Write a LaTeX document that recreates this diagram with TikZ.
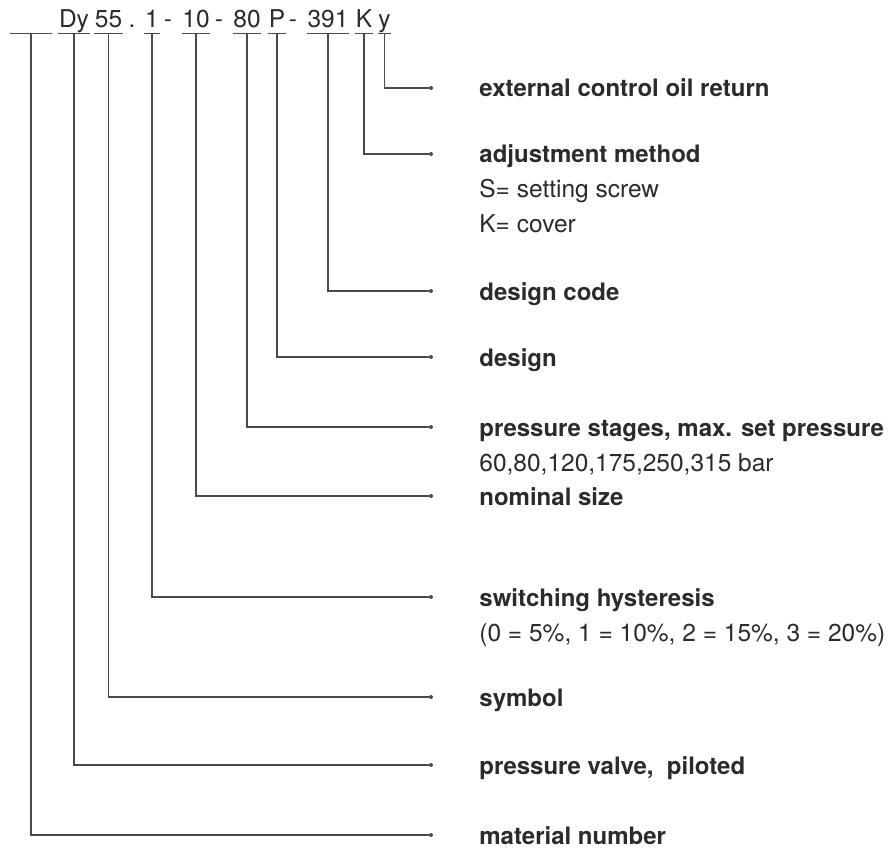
\documentclass[tikz,border=0pt]{standalone}
\usepackage{fontspec}
\setmainfont{TeX Gyre Heros}
\usetikzlibrary{positioning}
\definecolor{inkgray}{HTML}{2B2B2B}
\definecolor{linegray}{HTML}{4A4A4A}
\tikzset{
  font={\fontsize{24.5pt}{28pt}\selectfont},
  code/.style={anchor=base, inner xsep=0.5pt, inner ysep=0pt, text depth=0pt, text=inkgray},
  lead/.style={draw=linegray, line width=1.1pt},
  dot/.style={circle, fill=linegray, inner sep=0pt, minimum size=4pt},
  lbl/.style={inner sep=0pt, text height=18pt, text depth=0pt, text=inkgray, font={\fontsize{24pt}{28pt}\selectfont\bfseries}},
  sub/.style={inner sep=0pt, anchor=base west, text=inkgray}}

\begin{document}
\begin{tikzpicture}[x=1pt,y=-1pt]
\useasboundingbox (0,0) rectangle (891,850);
\node[code, minimum width=42pt] (cMat) at (31,28) {};
\node[code] (cDy) at (74,28) {Dy};
\node[code] (c55) at (108.5,28) {55};
\node[code] (sepA) at (132,28) {.};
\node[code] (c1) at (152,28) {1};
\node[code] (sepB) at (168,28) {-};
\node[code] (c10) at (196,28) {10};
\node[code] (sepC) at (219,28) {-};
\node[code] (c80) at (247,28) {80};
\node[code] (cP) at (277,28) {P};
\node[code] (sepD) at (293,28) {-};
\node[code] (c391) at (328,28) {391};
\node[code] (cK) at (364,28) {K};
\node[code] (cY) at (384.5,28) {y};
\node[dot] (dY) at (431,88) {};
\node[dot] (dK) at (431,154) {};
\node[dot] (d391) at (431,291) {};
\node[dot] (dP) at (431,357) {};
\node[dot] (d80) at (431,427) {};
\node[dot] (d10) at (431,496) {};
\node[dot] (d1) at (431,597) {};
\node[dot] (d55) at (431,697) {};
\node[dot] (dDy) at (431,765) {};
\node[dot] (dMat) at (431,835) {};
\node[lbl, right=46pt of dY] (lY) {external control oil return};
\node[lbl, right=46pt of dK] (lK) {adjustment method};
\node[sub] (sK1) at ([yshift=-35pt]lK.base west) {S= setting screw};
\node[sub] (sK2) at ([yshift=-35pt]sK1.base west) {K= cover};
\node[lbl, right=46pt of d391] (l391) {design code};
\node[lbl, right=46pt of dP] (lP) {design};
\node[lbl, right=46pt of d80] (l80) {pressure stages, max. set pressure};
\node[sub] (s80) at ([yshift=-35pt]l80.base west) {60,80,120,175,250,315 bar};
\node[lbl, right=46pt of d10] (l10) {nominal size};
\node[lbl, right=46pt of d1] (l1) {switching hysteresis};
\node[sub] (s1) at ([yshift=-35pt]l1.base west) {(0 = 5\%, 1 = 10\%, 2 = 15\%, 3 = 20\%)};
\node[lbl, right=46pt of d55] (l55) {symbol};
\node[lbl, right=46pt of dDy] (lDy) {pressure valve,~ piloted};
\node[lbl, right=46pt of dMat] (lMat) {material number};
\draw[lead] ([yshift=-5pt]cMat.south west) -- ([yshift=-5pt]cMat.south east);
\draw[lead] ([yshift=-5pt]cDy.south west) -- ([yshift=-5pt]cDy.south east);
\draw[lead] ([yshift=-5pt]c55.south west) -- ([yshift=-5pt]c55.south east);
\draw[lead] ([yshift=-5pt]c1.south west) -- ([yshift=-5pt]c1.south east);
\draw[lead] ([yshift=-5pt]c10.south west) -- ([yshift=-5pt]c10.south east);
\draw[lead] ([yshift=-5pt]c80.south west) -- ([yshift=-5pt]c80.south east);
\draw[lead] ([yshift=-5pt]cP.south west) -- ([yshift=-5pt]cP.south east);
\draw[lead] ([yshift=-5pt]c391.south west) -- ([yshift=-5pt]c391.south east);
\draw[lead] ([yshift=-5pt]cK.south west) -- ([yshift=-5pt]cK.south east);
\draw[lead] ([yshift=-5pt]cY.south west) -- ([yshift=-5pt]cY.south east);
\draw[lead] ([yshift=-5pt]cY.south) |- (dY);
\draw[lead] ([yshift=-5pt]cK.south) |- (dK);
\draw[lead] ([yshift=-5pt]c391.south) |- (d391);
\draw[lead] ([yshift=-5pt]cP.south) |- (dP);
\draw[lead] ([yshift=-5pt]c80.south) |- (d80);
\draw[lead] ([yshift=-5pt]c10.south) |- (d10);
\draw[lead] ([yshift=-5pt]c1.south) |- (d1);
\draw[lead] ([yshift=-5pt]c55.south) |- (d55);
\draw[lead] ([yshift=-5pt]cDy.south) |- (dDy);
\draw[lead] ([yshift=-5pt]cMat.south) |- (dMat);
\end{tikzpicture}
\end{document}
